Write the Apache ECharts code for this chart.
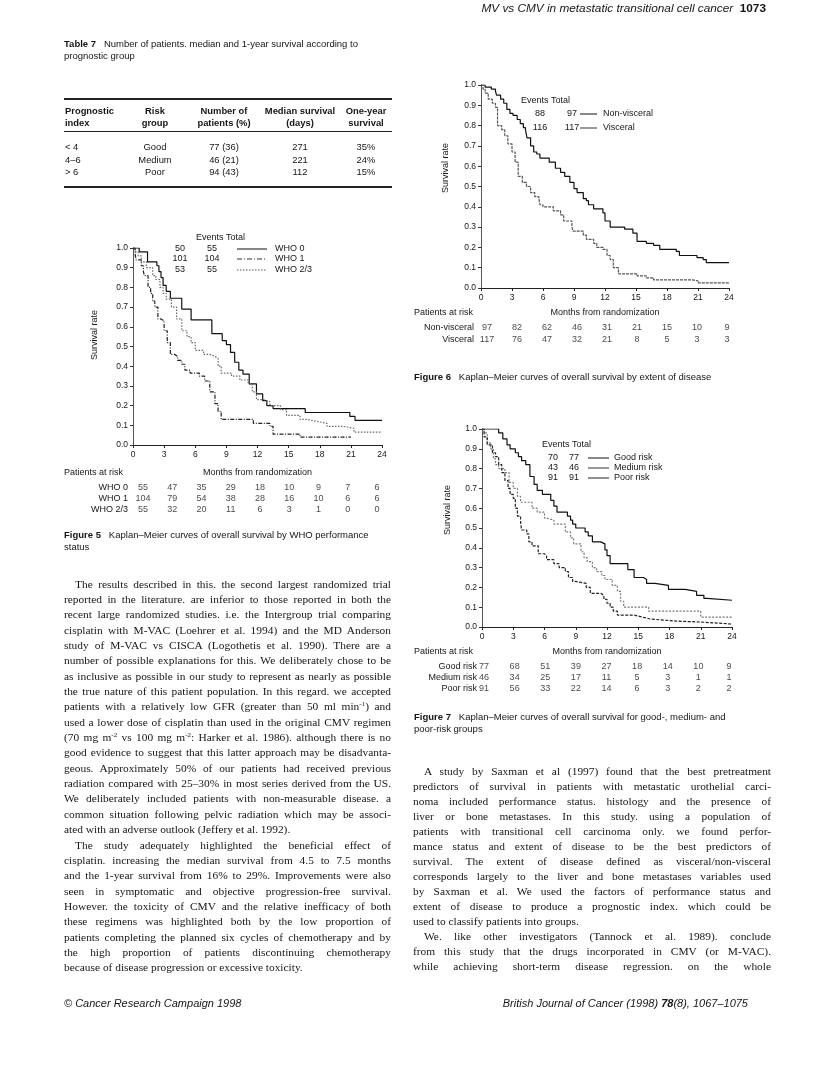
<!DOCTYPE html>
<html>
<head>
<meta charset="utf-8">
<script src="https://cdn.jsdelivr.net/npm/echarts@6/dist/echarts.min.js"></script>
<style>
html,body{margin:0;padding:0;background:#fff;}
#page{position:relative;width:816px;height:1082px;overflow:hidden;background:#fff;color:#151515;}
#chart{position:absolute;left:0;top:0;width:816px;height:1082px;}
.sans{font-family:"Liberation Sans",Arial,Helvetica,sans-serif;}
.serif{font-family:"Liberation Serif","Times New Roman",serif;}
.abs{position:absolute;white-space:nowrap;}
.ln{position:absolute;white-space:nowrap;text-align:justify;text-align-last:justify;font-size:11.4px;line-height:15px;height:15px;}
.ln.last{text-align:left;text-align-last:left;}
.ln sup{font-size:7px;line-height:0;vertical-align:0;position:relative;top:-4px;}
.rule{position:absolute;background:#222;}
.c{transform:translateX(-50%);}
</style>
</head>
<body>
<div id="page">
<div id="chart"></div>
<div id="html"></div>
</div>
<script>
// ---------------- DATA ----------------
const months = [0, 3, 6, 9, 12, 15, 18, 21, 24];

// Figure 5: WHO performance status (Kaplan-Meier steps: [month, survival])
const who0 = [[0,1],[0.6,0.98],[1.4,0.93],[2.3,0.91],[2.5,0.88],[2.7,0.85],[2.9,0.81],[3.2,0.78],[3.6,0.745],[4.7,0.69],[5.6,0.635],[7.6,0.565],[8.6,0.53],[9.0,0.51],[9.4,0.47],[9.8,0.42],[10.2,0.38],[10.6,0.36],[11.2,0.31],[11.9,0.26],[12.5,0.225],[12.9,0.20],[13.5,0.185],[16.6,0.165],[20.9,0.145],[21.4,0.125],[24,0.125]];
const who1 = [[0,1],[0.2,0.98],[0.5,0.96],[0.8,0.93],[1.3,0.90],[1.9,0.86],[2.2,0.84],[2.6,0.80],[2.9,0.77],[3.2,0.74],[3.7,0.70],[4.2,0.64],[4.7,0.58],[5.2,0.55],[5.6,0.52],[6.0,0.48],[6.8,0.46],[7.4,0.45],[7.9,0.44],[8.2,0.40],[8.5,0.365],[9.5,0.35],[10.3,0.33],[11.1,0.31],[11.5,0.27],[11.9,0.23],[12.6,0.22],[13.2,0.20],[14.2,0.18],[14.8,0.15],[16.1,0.13],[16.8,0.12],[17.7,0.11],[18.7,0.095],[20.2,0.085],[21.3,0.065],[24,0.065]];
const who23 = [[0,1],[0.2,0.97],[0.3,0.94],[0.8,0.91],[1.0,0.88],[1.1,0.86],[1.45,0.80],[1.7,0.77],[1.9,0.73],[2.1,0.70],[2.4,0.64],[2.7,0.63],[3.0,0.58],[3.3,0.52],[3.6,0.46],[4.0,0.45],[4.3,0.43],[4.7,0.41],[5.0,0.38],[5.5,0.365],[6.4,0.35],[6.9,0.325],[7.4,0.27],[7.9,0.21],[8.2,0.17],[8.5,0.13],[11.6,0.11],[13.2,0.095],[13.5,0.055],[16.1,0.04],[21.0,0.04]];
const fig5Names = ['WHO 0', 'WHO 1', 'WHO 2/3'];
const fig5Events = [[50,55],[101,104],[53,55]];
const fig5Risk = [[55,47,35,29,18,10,9,7,6],[104,79,54,38,28,16,10,6,6],[55,32,20,11,6,3,1,0,0]];

// Figure 6: extent of disease
const nonVisceral = [[0,1],[0.4,0.99],[1.0,0.98],[1.4,0.97],[1.5,0.95],[1.9,0.93],[2.2,0.91],[2.5,0.88],[2.8,0.86],[3.1,0.85],[3.5,0.83],[3.8,0.81],[4.1,0.79],[4.3,0.78],[4.45,0.74],[4.8,0.70],[5.1,0.67],[5.4,0.66],[5.7,0.64],[6.6,0.62],[7.2,0.59],[7.7,0.57],[8.1,0.55],[8.6,0.52],[9.0,0.49],[9.3,0.47],[9.9,0.44],[10.2,0.43],[10.4,0.41],[10.9,0.39],[11.8,0.37],[12.0,0.33],[12.5,0.30],[13.9,0.29],[14.7,0.27],[15.1,0.23],[16.0,0.22],[16.7,0.21],[17.3,0.19],[18.9,0.18],[19.2,0.16],[20.9,0.15],[21.5,0.14],[21.8,0.125],[24,0.125]];
const visceral = [[0,1],[0.2,0.98],[0.4,0.96],[0.7,0.93],[1.1,0.91],[1.4,0.89],[1.6,0.80],[2.0,0.78],[2.3,0.75],[2.6,0.71],[3.0,0.67],[3.3,0.62],[3.6,0.55],[4.0,0.52],[4.4,0.50],[4.8,0.47],[5.2,0.45],[5.6,0.44],[5.7,0.41],[6.0,0.40],[7.0,0.38],[7.7,0.36],[8.0,0.33],[8.8,0.30],[8.9,0.28],[9.9,0.26],[10.2,0.24],[10.9,0.22],[11.2,0.20],[11.8,0.19],[12.2,0.16],[12.5,0.14],[12.8,0.10],[13.3,0.07],[15.1,0.06],[16.0,0.05],[16.7,0.04],[20.5,0.035],[21.0,0.025],[24,0.025]];
const fig6Names = ['Non-visceral', 'Visceral'];
const fig6Events = [[88,97],[116,117]];
const fig6Risk = [[97,82,62,46,31,21,15,10,9],[117,76,47,32,21,8,5,3,3]];

// Figure 7: prognostic risk groups
const goodRisk = [[0,1],[1.6,0.98],[2.0,0.95],[2.4,0.92],[2.7,0.90],[3.2,0.88],[3.5,0.86],[3.8,0.84],[4.2,0.82],[4.6,0.76],[5.0,0.72],[5.3,0.69],[5.8,0.67],[6.6,0.64],[6.9,0.61],[7.2,0.58],[8.2,0.56],[8.5,0.54],[8.7,0.52],[9.0,0.50],[9.9,0.48],[10.2,0.46],[10.6,0.43],[11.4,0.42],[11.8,0.39],[12.0,0.36],[12.3,0.32],[14.0,0.29],[14.6,0.25],[15.5,0.24],[15.8,0.22],[16.6,0.21],[17.9,0.19],[19.5,0.18],[20.6,0.16],[21.3,0.145],[21.6,0.135],[24,0.135]];
const mediumRisk = [[0,1],[0.2,0.98],[0.5,0.93],[0.8,0.90],[1.1,0.85],[1.3,0.82],[1.6,0.80],[2.2,0.78],[2.6,0.73],[3.0,0.70],[3.4,0.66],[3.7,0.63],[4.8,0.60],[5.3,0.58],[6.0,0.55],[6.2,0.54],[6.9,0.52],[8.0,0.48],[8.5,0.45],[8.8,0.42],[9.5,0.38],[9.8,0.35],[10.1,0.33],[10.6,0.30],[11.0,0.28],[11.5,0.26],[11.8,0.24],[12.5,0.21],[13.0,0.18],[13.3,0.13],[13.6,0.10],[16.0,0.08],[21.0,0.05],[24,0.05]];
const poorRisk = [[0,1],[0.2,0.96],[0.5,0.92],[1.0,0.88],[1.3,0.86],[1.6,0.82],[1.9,0.78],[2.2,0.74],[2.5,0.70],[2.7,0.67],[3.0,0.65],[3.2,0.60],[3.4,0.56],[3.7,0.53],[3.8,0.49],[4.3,0.47],[4.5,0.43],[4.8,0.41],[5.4,0.37],[6.0,0.36],[6.2,0.34],[6.9,0.32],[7.4,0.30],[8.0,0.28],[8.3,0.25],[8.7,0.23],[9.0,0.22],[10.0,0.20],[10.4,0.17],[11.4,0.16],[11.7,0.14],[12.0,0.12],[12.3,0.10],[12.6,0.08],[13.0,0.06],[14.6,0.05],[15.4,0.04],[16.2,0.03],[18.6,0.025],[21.0,0.015],[24,0.015]];
const fig7Names = ['Good risk', 'Medium risk', 'Poor risk'];
const fig7Events = [[70,77],[43,46],[91,91]];
const fig7Risk = [[77,68,51,39,27,18,14,10,9],[46,34,25,17,11,5,3,1,1],[91,56,33,22,14,6,3,2,2]];

// Table 7
const tabHead1 = ['Prognostic', 'Risk', 'Number of', 'Median survival', 'One-year'];
const tabHead2 = ['index', 'group', 'patients (%)', '(days)', 'survival'];
const tabIndex = ['< 4', '4–6', '> 6'];
const tabGroup = ['Good', 'Medium', 'Poor'];
const tabN = ['77 (36)', '46 (21)', '94 (43)'];
const tabMedian = ['271', '221', '112'];
const tabOneYear = ['35%', '24%', '15%'];

// ---------------- CHARTS ----------------
const FF = '"Liberation Sans", Arial, Helvetica, sans-serif';
const FS = 8.5;   // tick labels
const FT = 9;     // other figure text
const INK = '#161616';

function mainX(gi, gap) {
  return {gridIndex: gi, type: 'value', min: 0, max: 24, interval: 3,
    name: 'Months from randomization', nameLocation: 'middle', nameGap: gap,
    nameTextStyle: {fontSize: FT, color: INK, fontFamily: FF},
    axisLine: {onZero: false, lineStyle: {color: '#222', width: 1}},
    axisTick: {length: 3, lineStyle: {color: '#222'}},
    axisLabel: {fontSize: FS, color: INK, margin: 5, fontFamily: FF},
    splitLine: {show: false}};
}
function mainY(gi) {
  return {gridIndex: gi, type: 'value', min: 0, max: 1, interval: 0.1,
    axisLine: {show: true, onZero: false, lineStyle: {color: '#555', width: 1}},
    axisTick: {show: true, length: 3, lineStyle: {color: '#333'}},
    axisLabel: {fontSize: FS, color: INK, margin: 5, fontFamily: FF, formatter: v => v.toFixed(1)},
    splitLine: {show: false}};
}
function riskX(gi) { return {gridIndex: gi, type: 'value', min: 0, max: 24, show: false}; }
function riskY(gi, rows, margin) {
  return {gridIndex: gi, type: 'category', data: rows, inverse: true,
    axisLine: {show: false}, axisTick: {show: false}, splitLine: {show: false},
    axisLabel: {interval: 0, fontSize: FT, color: INK, margin: margin, fontFamily: FF}};
}
function km(ai, data, color, type) {
  return {type: 'line', xAxisIndex: ai, yAxisIndex: ai, data: data, step: 'end', symbol: 'none',
    lineStyle: {color: color, width: 1.2, type: type}, silent: true, animation: false};
}
function riskSeries(ai, counts) {
  const data = [];
  counts.forEach((row, r) => row.forEach((c, i) => data.push([months[i], r, c])));
  return {type: 'scatter', xAxisIndex: ai, yAxisIndex: ai, data: data, symbolSize: 1,
    itemStyle: {color: 'rgba(0,0,0,0)'}, silent: true, animation: false,
    label: {show: true, position: 'inside', formatter: p => String(p.value[2]), fontSize: FT, color: INK, fontFamily: FF}};
}
function txt(x, y, text, extra) {
  return {type: 'text', x: x, y: y, silent: true,
    style: Object.assign({text: text, fontSize: FT, fontFamily: FF, fill: INK, textAlign: 'left', textVerticalAlign: 'middle'}, extra || {})};
}
function seg(x1, x2, y, dash, color) {
  return {type: 'line', silent: true, shape: {x1: x1, y1: y, x2: x2, y2: y},
    style: {stroke: color || INK, lineWidth: 1, lineDash: dash || null}};
}
function legendBlock(hx, hy, rowsY, evX, totX, lx1, lx2, labX, names, events, dashes, colors) {
  const els = [txt(hx, hy, 'Events Total')];
  names.forEach((n, i) => {
    els.push(txt(evX, rowsY[i], String(events[i][0]), {textAlign: 'center'}));
    els.push(txt(totX, rowsY[i], String(events[i][1]), {textAlign: 'center'}));
    els.push(seg(lx1, lx2, rowsY[i], dashes[i], colors[i]));
    els.push(txt(labX, rowsY[i], n));
  });
  return els;
}
function vlabel(x, y) {
  return {type: 'text', x: x, y: y, rotation: Math.PI / 2, silent: true,
    style: {text: 'Survival rate', fontSize: FT, fontFamily: FF, fill: INK, textAlign: 'center', textVerticalAlign: 'middle'}};
}

const grids = [
  {left: 133, top: 248, width: 249, height: 197},
  {left: 143, top: 482, width: 234, height: 33},
  {left: 481, top: 85, width: 248, height: 203},
  {left: 487, top: 322, width: 240, height: 24},
  {left: 482, top: 429, width: 250, height: 198},
  {left: 484, top: 661, width: 245, height: 33}
].map(g => Object.assign({containLabel: false, outerBoundsMode: 'none'}, g));

const graphics = []
  .concat(legendBlock(196, 238, [249, 259, 270], 180, 212, 237, 267, 275, fig5Names, fig5Events,
      [null, [5, 2, 1, 2], [1.5, 1.5]], ['#111', '#333', '#555']))
  .concat(legendBlock(521, 101, [114, 128], 540, 572, 580, 597, 603, fig6Names, fig6Events,
      [null, null], ['#111', '#333']))
  .concat(legendBlock(542, 445, [458, 468, 478], 553, 574, 588, 609, 614, fig7Names, fig7Events,
      [null, null, null], ['#111', '#333', '#222']))
  .concat([
    txt(64, 473, 'Patients at risk'),
    txt(414, 313, 'Patients at risk'),
    txt(414, 652, 'Patients at risk'),
    vlabel(95, 335), vlabel(446, 168), vlabel(448, 510)
  ]);

const option = {
  animation: false,
  backgroundColor: 'transparent',
  textStyle: {fontFamily: FF},
  grid: grids,
  xAxis: [mainX(0, 23), riskX(1), mainX(2, 20), riskX(3), mainX(4, 20), riskX(5)],
  yAxis: [mainY(0), riskY(1, fig5Names, 15), mainY(2), riskY(3, fig6Names, 13), mainY(4), riskY(5, fig7Names, 7)],
  series: [
    km(0, who0, '#111', 'solid'),
    km(0, who1, '#666', [1.5, 1.5]),
    km(0, who23, '#222', [4, 1.5, 1, 1.5]),
    riskSeries(1, fig5Risk),
    km(2, nonVisceral, '#111', 'solid'),
    km(2, visceral, '#555', [3, 1]),
    riskSeries(3, fig6Risk),
    km(4, goodRisk, '#111', 'solid'),
    km(4, mediumRisk, '#777', [2, 1.5]),
    km(4, poorRisk, '#222', [3, 1.5]),
    riskSeries(5, fig7Risk)
  ],
  graphic: {elements: graphics}
};
const chart = echarts.init(document.getElementById('chart'), null, {renderer: 'canvas'});
chart.setOption(option);

// ---------------- PAGE TEXT ----------------
const leftLines = [
  ['The results described in this. the second largest randomized trial', 1, 0],
  ['reported in the literature. are inferior to those reported in both the', 0, 0],
  ['recent large randomized studies. i.e. the Intergroup trial comparing', 0, 0],
  ['cisplatin with M-VAC (Loehrer et al. 1994) and the MD Anderson', 0, 0],
  ['study of M-VAC vs CISCA (Logothetis et al. 1990). There are a', 0, 0],
  ['number of possible explanations for this. We deliberately chose to be', 0, 0],
  ['as inclusive as possible in our study to represent as nearly as possible', 0, 0],
  ['the true nature of this patient population. In this regard. we accepted', 0, 0],
  ['patients with a relatively low GFR (greater than 50 ml min<sup>-1</sup>) and', 0, 0],
  ['used a lower dose of cisplatin than used in the original CMV regimen', 0, 0],
  ['(70 mg m<sup>-2</sup> vs 100 mg m<sup>-2</sup>: Harker et al. 1986). although there is no', 0, 0],
  ['good evidence to suggest that this latter approach may be disadvanta-', 0, 0],
  ['geous. Approximately 50% of our patients had received previous', 0, 0],
  ['radiation compared with 25–30% in most series derived from the US.', 0, 0],
  ['We deliberately included patients with non-measurable disease. a', 0, 0],
  ['common situation following pelvic radiation which may be associ-', 0, 0],
  ['ated with an adverse outlook (Jeffery et al. 1992).', 0, 1],
  ['The study adequately highlighted the beneficial effect of', 1, 0],
  ['cisplatin. increasing the median survival from 4.5 to 7.5 months', 0, 0],
  ['and the 1-year survival from 16% to 29%. Improvements were also', 0, 0],
  ['seen in symptomatic and objective progression-free survival.', 0, 0],
  ['However. the toxicity of CMV and the relative inefficacy of both', 0, 0],
  ['these regimens was highlighted both by the low proportion of', 0, 0],
  ['patients completing the planned six cycles of chemotherapy and by', 0, 0],
  ['the high proportion of patients discontinuing chemotherapy', 0, 0],
  ['because of disease progression or excessive toxicity.', 0, 1]
];
const rightLines = [
  ['A study by Saxman et al (1997) found that the best pretreatment', 1, 0],
  ['predictors of survival in patients with metastatic urothelial carci-', 0, 0],
  ['noma included performance status. histology and the presence of', 0, 0],
  ['liver or bone metastases. In this study. using a population of', 0, 0],
  ['patients with transitional cell carcinoma only. we found perfor-', 0, 0],
  ['mance status and extent of disease to be the best predictors of', 0, 0],
  ['survival. The extent of disease defined as visceral/non-visceral', 0, 0],
  ['corresponds largely to the liver and bone metastases variables used', 0, 0],
  ['by Saxman et al. We used the factors of performance status and', 0, 0],
  ['extent of disease to produce a prognostic index. which could be', 0, 0],
  ['used to classify patients into groups.', 0, 1],
  ['We. like other investigators (Tannock et al. 1989). conclude', 1, 0],
  ['from this study that the drugs incorporated in CMV (or M-VAC).', 0, 0],
  ['while achieving short-term disease regression. on the whole', 0, 0]
];

let h = '';
function col(lines, x0, w, firstCenter, lh) {
  lines.forEach((l, i) => {
    const ind = l[1] ? 11 : 0;
    const top = firstCenter + i * lh - 7.5;
    h += '<div class="ln serif' + (l[2] ? ' last' : '') + '" style="left:' + (x0 + ind) + 'px;top:' + top.toFixed(1) + 'px;width:' + (w - ind) + 'px">' + l[0] + '</div>';
  });
}
col(leftLines, 64, 327, 584, 15.35);
col(rightLines, 413, 358, 771, 15.0);

// header & footers
h += '<div class="abs sans" style="right:50px;top:1px;font-size:11.8px;line-height:15px;"><i>MV vs CMV in metastatic transitional cell cancer</i>&nbsp;&nbsp;<b>1073</b></div>';
h += '<div class="abs sans" style="left:64px;top:996px;font-size:11px;line-height:14px;"><i>© Cancer Research Campaign 1998</i></div>';
h += '<div class="abs sans" style="right:68px;top:996px;font-size:11px;line-height:14px;"><i>British Journal of Cancer (1998) <b>78</b>(8), 1067–1075</i></div>';

// captions
function cap(x, y, lines) {
  lines.forEach((t, i) => {
    h += '<div class="abs sans" style="left:' + x + 'px;top:' + (y + i * 11.5 - 6) + 'px;font-size:9.5px;line-height:12px;">' + t + '</div>';
  });
}
cap(64, 44, ['<b>Table 7</b>&nbsp;&nbsp; Number of patients. median and 1-year survival according to', 'prognostic group']);
cap(64, 535, ['<b>Figure 5</b>&nbsp;&nbsp; Kaplan–Meier curves of overall survival by WHO performance', 'status']);
cap(414, 377, ['<b>Figure 6</b>&nbsp;&nbsp; Kaplan–Meier curves of overall survival by extent of disease']);
cap(414, 717, ['<b>Figure 7</b>&nbsp;&nbsp; Kaplan–Meier curves of overall survival for good-, medium- and', 'poor-risk groups']);

// table
h += '<div class="rule" style="left:64px;top:98px;width:328px;height:1.5px"></div>';
h += '<div class="rule" style="left:64px;top:131px;width:328px;height:1px"></div>';
h += '<div class="rule" style="left:64px;top:186px;width:328px;height:1.5px"></div>';
const colX = [65, 155, 224, 300, 366];
function cell(x, y, t, bold, centered) {
  h += '<div class="abs sans' + (centered ? ' c' : '') + '" style="left:' + x + 'px;top:' + (y - 6) + 'px;font-size:9.4px;line-height:12px;' + (bold ? 'font-weight:bold;' : '') + '">' + t + '</div>';
}
tabHead1.forEach((t, i) => cell(colX[i], 111, t, true, i > 0));
tabHead2.forEach((t, i) => cell(colX[i], 123, t, true, i > 0));
[tabIndex, tabGroup, tabN, tabMedian, tabOneYear].forEach((colv, ci) => {
  colv.forEach((t, ri) => cell(colX[ci], 147 + ri * 12.5, t.replace('<', '&lt;').replace('>', '&gt;'), false, ci > 0));
});
document.getElementById('html').innerHTML = h;
</script>
</body>
</html>
